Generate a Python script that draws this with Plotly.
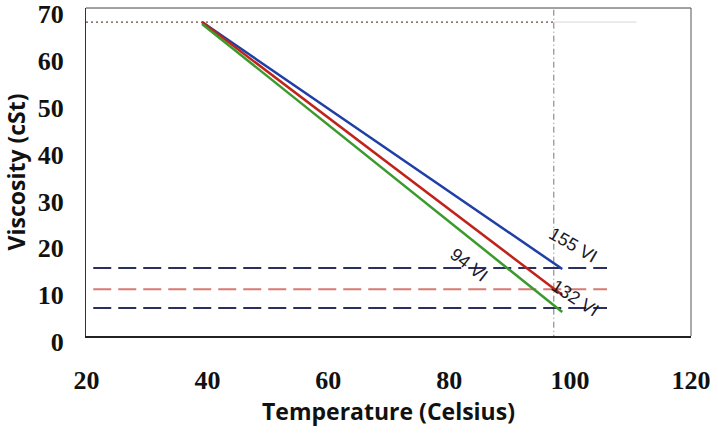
import plotly.graph_objects as go

# ---- data ----
temp_ends = [39.1, 98.7]            # start / end temperature of the VI curves
visc_155vi = [67.0, 14.3]
visc_132vi = [67.0, 8.75]
visc_94vi = [66.6, 5.1]

ref_x = [21.1, 106.1]               # horizontal reference lines span
ref_top = [14.5, 14.5]
ref_mid = [10.0, 10.0]
ref_low = [6.0, 6.0]

top_x = [19.9, 97.3]                # dotted 67 cSt guide
top_y = [67.0, 67.0]
top_x_faint = [97.3, 111.0]

vline_x = [97.3, 97.3]
vline_y = [-1.0, 70.0]

labels = ["155 VI", "132 VI", "94 VI"]
label_x = [100.5, 100.8, 83.3]
label_y = [19.4, 8.1, 15.2]
label_angle = [30, 33, 38]

x_ticks = [20, 40, 60, 80, 100, 120]
y_ticks = [0, 10, 20, 30, 40, 50, 60, 70]

fig = go.Figure()

fig.add_trace(go.Scatter(x=top_x, y=top_y, mode="lines",
                         line=dict(color="#6a4a40", width=1.2, dash="2px,3px"),
                         hoverinfo="skip"))
fig.add_trace(go.Scatter(x=top_x_faint, y=top_y, mode="lines",
                         line=dict(color="#d8d8d8", width=1),
                         hoverinfo="skip"))
fig.add_trace(go.Scatter(x=vline_x, y=vline_y, mode="lines",
                         line=dict(color="#777777", width=1, dash="6px,3px,1px,3px"),
                         hoverinfo="skip", cliponaxis=False))
fig.add_trace(go.Scatter(x=ref_x, y=ref_top, mode="lines",
                         line=dict(color="#2b2f5e", width=2, dash="18px,7px"),
                         hoverinfo="skip"))
fig.add_trace(go.Scatter(x=ref_x, y=ref_mid, mode="lines",
                         line=dict(color="#d77a72", width=2, dash="18px,7px"),
                         hoverinfo="skip"))
fig.add_trace(go.Scatter(x=ref_x, y=ref_low, mode="lines",
                         line=dict(color="#2b2f5e", width=2, dash="18px,7px"),
                         hoverinfo="skip"))

fig.add_trace(go.Scatter(x=temp_ends, y=visc_155vi, mode="lines",
                         line=dict(color="#1f3fa6", width=2.5)))
fig.add_trace(go.Scatter(x=temp_ends, y=visc_132vi, mode="lines",
                         line=dict(color="#c0231b", width=2.5)))
fig.add_trace(go.Scatter(x=temp_ends, y=visc_94vi, mode="lines",
                         line=dict(color="#3a9a2c", width=2.5)))

for t, x, y, a in zip(labels, label_x, label_y, label_angle):
    fig.add_annotation(x=x, y=y, text=t, showarrow=False, textangle=a,
                       font=dict(family="Liberation Sans", size=18, color="#1a1a2a"))

# top and right borders of the plot frame
fig.add_shape(type="line", xref="x domain", yref="y domain", x0=0, x1=1, y0=1, y1=1,
              line=dict(color="#444444", width=1))
fig.add_shape(type="line", xref="x domain", yref="y domain", x0=1, x1=1, y0=0, y1=1,
              line=dict(color="#555555", width=1))

fig.update_layout(
    width=718, height=436,
    margin=dict(l=86, r=27, t=8, b=100),
    paper_bgcolor="white", plot_bgcolor="white",
    showlegend=False,
)
fig.update_xaxes(
    range=[19.9, 120.0], tickvals=x_ticks, showgrid=False, zeroline=False,
    showline=True, linecolor="#222222", linewidth=2, automargin=False,
    tickfont=dict(family="Liberation Serif", size=26, color="#111111", weight="bold"),
    ticklabelstandoff=20, ticklabeloverflow="allow",
    title=dict(text="Temperature (Celsius)", standoff=10,
               font=dict(family="Open Sans", size=23, color="#111111", weight="bold")),
)
fig.update_yaxes(
    range=[0, 70], tickvals=y_ticks, showgrid=False, zeroline=False,
    showline=True, linecolor="#333333", linewidth=1, automargin=False,
    tickfont=dict(family="Liberation Serif", size=26, color="#111111", weight="bold"),
    ticklabelstandoff=16, ticklabelshift=6, ticklabeloverflow="allow",
    title=dict(text="Viscosity (cSt)", standoff=6,
               font=dict(family="Open Sans", size=23, color="#111111", weight="bold")),
)

fig.write_html("out.html")
